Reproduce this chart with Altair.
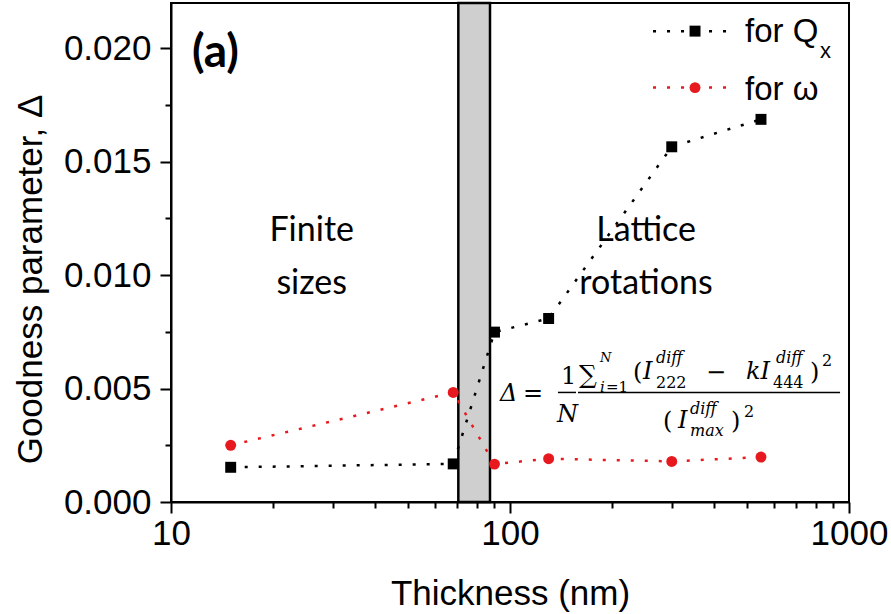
import altair as alt
import pandas as pd

# ---------------- data ----------------
thickness_nm = [15, 68, 90, 130, 300, 550]
delta_qx = [0.00153, 0.00168, 0.00749, 0.00809, 0.01566, 0.01687]
delta_omega = [0.00250, 0.00483, 0.00167, 0.00191, 0.00179, 0.00198]
series_names = ["Qx", "omega"]
series_colors = ["#000000", "#e8191e"]
series_shapes = ["square", "circle"]

transition_band_nm = [70.4, 87.3]

x_domain = [10, 1000]
y_domain = [0, 0.022]
x_tick_values = [10, 20, 30, 40, 50, 60, 70, 80, 90,
                 100, 200, 300, 400, 500, 600, 700, 800, 900, 1000]
y_tick_values = [0, 0.0025, 0.005, 0.0075, 0.01, 0.0125, 0.015, 0.0175, 0.02]

# ---------------- tables ----------------
data = pd.DataFrame({
    "x": thickness_nm * 2,
    "y": delta_qx + delta_omega,
    "series": [series_names[0]] * len(thickness_nm) + [series_names[1]] * len(thickness_nm),
})
band = pd.DataFrame({"x": [transition_band_nm[0]], "x2": [transition_band_nm[1]],
                     "y": [y_domain[0]], "y2": [y_domain[1]]})

# legend (drawn inside the plot, top right)
legend_lines = pd.DataFrame({"x": [264.2, 454.8, 264.2, 454.8],
                             "y": [0.02076, 0.02076, 0.01827, 0.01827],
                             "series": ["Qx", "Qx", "omega", "omega"]})
legend_pts = pd.DataFrame({"x": [351.4, 351.4], "y": [0.02076, 0.01827],
                           "series": ["Qx", "omega"]})
legend_text = pd.DataFrame({"x": [493.4], "y": [0.02070], "t": ["for Q"], "fs": [33]})
legend_omega = pd.DataFrame({"x": [493.4], "y": [0.01815], "t": ["for ω"], "fs": [33]})
legend_sub = pd.DataFrame({"x": [821.3], "y": [0.01987], "t": ["x"], "fs": [22]})

# region labels
region_text = pd.DataFrame({"x": [26.0, 26.0, 252.0, 252.0],
                            "y": [0.0115, 0.00915, 0.0115, 0.00915],
                            "t": ["Finite", "sizes", "Lattice", "rotations"],
                            "fs": [34, 34, 34, 34]})
panel_label = pd.DataFrame({"x": [11.53], "y": [0.01980], "t": ["(a)"], "fs": [46]})

# formula pieces
formula_upright = pd.DataFrame({
    "t": ["=", "1", "∑", "=1", "(", "222", "−", "444", ")", "2", "(", ")", "2"],
    "x": [109.2, 141.4, 159.7, 192.0, 230.6, 269.6, 378.6, 596.8, 767.4, 832.5, 282.7, 448.7, 490.0],
    "y": [0.00474, 0.00553, 0.00560, 0.00509, 0.00567, 0.00523, 0.00567, 0.00523, 0.00567,
          0.00620, 0.00351, 0.00351, 0.00395],
    "fs": [24, 24, 25, 15, 24, 16, 24, 16, 24, 16, 24, 24, 16],
})
formula_italic = pd.DataFrame({
    "t": ["Δ", "N", "N", "i", "I", "diff", "kI", "diff", "I", "diff", "max"],
    "x": [93.4, 137.6, 184.3, 184.3, 246.8, 269.6, 496.9, 609.0, 313.1, 339.6, 339.6],
    "y": [0.00474, 0.00382, 0.00636, 0.00509, 0.00571, 0.00633, 0.00571, 0.00633,
          0.00355, 0.00412, 0.00315],
    "fs": [24, 24, 13, 15, 24, 16, 24, 16, 24, 16, 16],
})
formula_bars = pd.DataFrame({"x": [138.5, 158.7], "x2": [156.6, 941.0],
                             "y": [0.00483, 0.00483]})

# ---------------- encodings ----------------
major_x = "abs(log(datum.value)/log(10) - round(log(datum.value)/log(10))) < 0.000001"
major_y = "abs(datum.value*200 - round(datum.value*200)) < 0.001"

x_axis = alt.Axis(
    values=x_tick_values,
    labelExpr="datum.value == 10 ? '10' : datum.value == 100 ? '100' : datum.value == 1000 ? '1000' : ''",
    tickSize={"condition": {"test": major_x, "value": 11}, "value": 6},
    labelPadding=3, labelOverlap=False, labelFlush=False,
    titleY=91, titleBaseline="middle",
)
y_axis = alt.Axis(
    values=y_tick_values,
    labelExpr=f"({major_y}) ? format(datum.value, '.3f') : ''",
    tickSize={"condition": {"test": major_y, "value": 11}, "value": 6},
    labelPadding=9, labelOverlap=False, labelFlush=False,
    titleX=-141, titleY=276, titleBaseline="middle", titleAngle=-90,
)

X = alt.X("x:Q", scale=alt.Scale(type="log", domain=x_domain, nice=False),
          axis=x_axis, title="Thickness (nm)")
Y = alt.Y("y:Q", scale=alt.Scale(domain=y_domain, nice=False, zero=True),
          axis=y_axis, title="Goodness parameter, Δ")
color = alt.Color("series:N", scale=alt.Scale(domain=series_names, range=series_colors), legend=None)
shape = alt.Shape("series:N", scale=alt.Scale(domain=series_names, range=series_shapes), legend=None)

# ---------------- layers ----------------
band_layer = alt.Chart(band).mark_rect(fill="#cfcfcf", stroke="black", strokeWidth=2.5).encode(
    x=X, x2="x2:Q", y=Y, y2="y2:Q")

lines = alt.Chart(data).mark_line(strokeDash=[3, 11], strokeWidth=2.5).encode(
    x=X, y=Y, color=color)
points = alt.Chart(data).mark_point(filled=True, size=120, opacity=1).encode(
    x=X, y=Y, color=color, shape=shape)

leg_lines = alt.Chart(legend_lines).mark_line(strokeDash=[3, 11], strokeWidth=2.5).encode(
    x=X, y=Y, color=color)
leg_pts = alt.Chart(legend_pts).mark_point(filled=True, size=120, opacity=1).encode(
    x=X, y=Y, color=color, shape=shape)


def text_layer(df, font, align="left", style="normal", weight="normal", baseline="middle"):
    return alt.Chart(df).mark_text(align=align, baseline=baseline, font=font,
                                   fontStyle=style, fontWeight=weight, color="black").encode(
        x=X, y=Y, text="t:N", size=alt.Size("fs:Q", scale=None))


leg_txt = text_layer(legend_text, "Liberation Sans")
leg_om = text_layer(legend_omega, "Liberation Sans")
leg_sub = text_layer(legend_sub, "Liberation Sans")
regions = text_layer(region_text, "Lato", align="center", baseline="alphabetic")
panel = text_layer(panel_label, "Lato", weight="bold")
f_up = text_layer(formula_upright, "DejaVu Serif")
f_it = text_layer(formula_italic, "DejaVu Serif", style="italic")
f_bars = alt.Chart(formula_bars).mark_rule(color="black", strokeWidth=1.5).encode(
    x=X, x2="x2:Q", y=Y)

chart = alt.layer(
    band_layer, lines, points, leg_lines, leg_pts, leg_txt, leg_om, leg_sub,
    regions, panel, f_up, f_it, f_bars,
).properties(
    width=678, height=499,
    autosize=alt.AutoSizeParams(type="none"),
    padding={"left": 171, "top": 3, "right": 42, "bottom": 112},
    background="white",
).configure_view(
    stroke="black", strokeWidth=2,
).configure_axis(
    grid=False,
    domainColor="black", domainWidth=2,
    tickColor="black", tickWidth=2,
    labelColor="black", labelFont="Liberation Sans", labelFontSize=35,
    titleColor="black", titleFont="Liberation Sans", titleFontSize=35, titleFontWeight="normal",
)

chart.save("out.html", embed_options={"renderer": "svg", "actions": False})
